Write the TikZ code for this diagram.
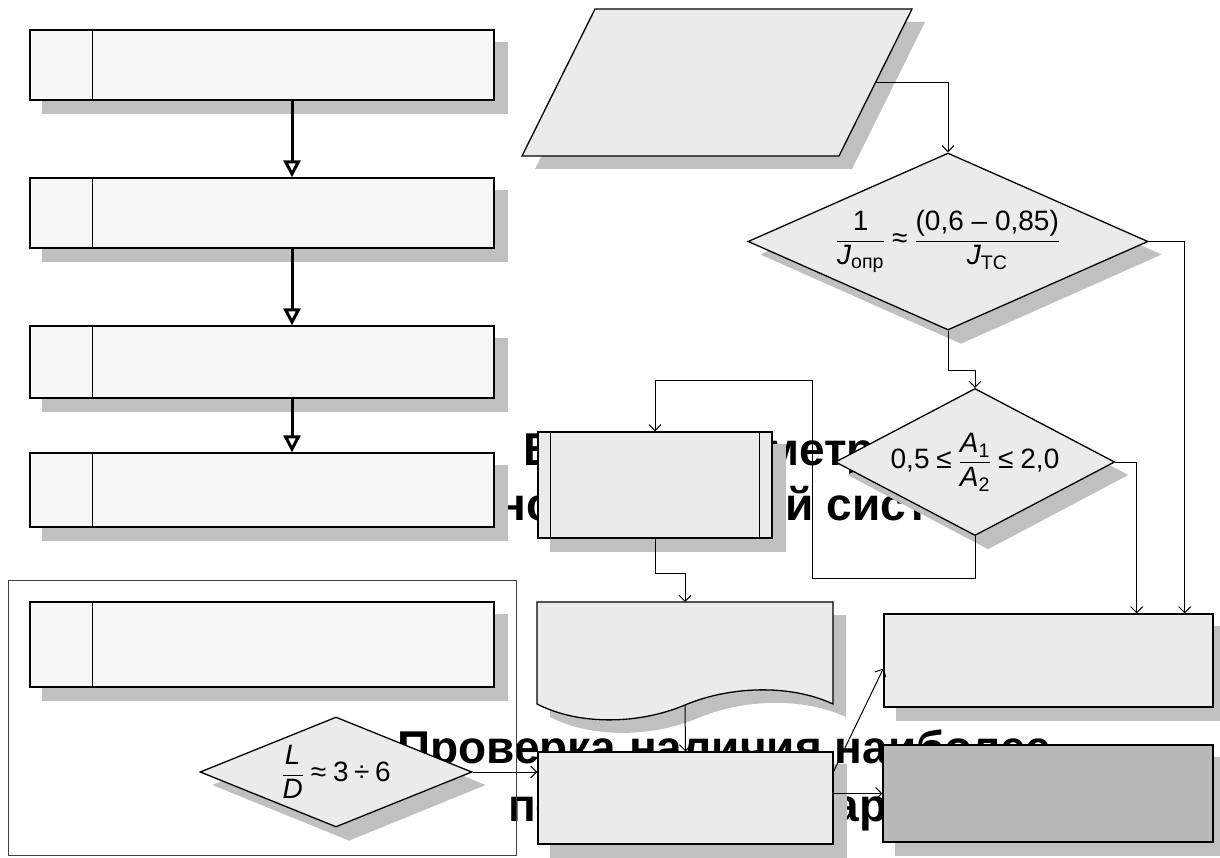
\documentclass[tikz,border=0pt]{standalone}
\usepackage{amsmath}
\usepackage{fontspec}
\setmainfont{Liberation Sans}
\usetikzlibrary{positioning, shapes.geometric, arrows.meta, calc}
\pgfdeclarelayer{shadows}
\pgfdeclarelayer{words}
\pgfsetlayers{words,shadows,main}
\definecolor{shadowgray}{HTML}{C0C0C0}
\definecolor{boxfill}{HTML}{EBEBEB}
\definecolor{palefill}{HTML}{F7F7F7}
\definecolor{darkfill}{HTML}{B9B9B9}
\definecolor{framegray}{HTML}{404040}
% outlines that are drawn twice (shadow and shape)
\def\inppath{(595,9) -- (912,9) -- (839,156) -- (522,156) -- cycle}
\def\docpath{(537,602) -- (833,602) -- (833,704) .. controls (790,684) and (730,686) .. (685,705) .. controls (640,724) and (580,726) .. (537,704) -- cycle}

\begin{document}
\begin{tikzpicture}[x=1pt, y=-1pt,
	stagebox/.style={draw, line width=1.3pt, fill=palefill, minimum width=464pt, inner sep=0pt},
	blockbox/.style={draw, line width=1.3pt, fill=boxfill, inner sep=0pt},
	check/.style={diamond, draw, line width=1.3pt, fill=boxfill, inner sep=0pt, font=\fontsize{28}{33}\selectfont},
	link/.style={-{Straight Barb[length=6pt,width=12pt]}, line width=1pt},
	bigarrow/.style={-{Triangle[fill=white,length=17pt,width=17pt]}, line width=3pt},
	heading/.style={font=\bfseries\fontsize{46}{53}\selectfont, inner sep=0pt, anchor=base west},
	shade/.style={fill=shadowgray}]
		\useasboundingbox (0,0) rectangle (1220,858);
		
		% Frame round the lower left part
		\draw[framegray, line width=1pt] (8,580) rectangle (516,855);
		
		% Left column
		\node[stagebox, minimum height=70pt] (s1) at (262,65) {};
		\node[stagebox, minimum height=70pt] (s2) at (262,213) {};
		\node[stagebox, minimum height=72pt] (s3) at (262,362) {};
		\node[stagebox, minimum height=74pt] (s4) at (262,490) {};
		\node[stagebox, minimum height=85pt] (s5) at (262,644.5) {};
		\foreach \i in {1,...,5}
		\draw[line width=1.3pt] ($(s\i.north west)+(63,0)$) -- ($(s\i.south west)+(63,0)$);
		\foreach \i/\j in {1/2,2/3,3/4}
		\draw[bigarrow] ($(s\i.south)+(30,0)$) -- ($(s\j.north)+(30,0)$);
		
		% Input block
		\draw[line width=1.3pt, fill=boxfill] \inppath;
		\coordinate (inp) at (875.5,82.5);
		
		% Checks
		\node[check, minimum width=400pt, minimum height=177pt, aspect=2.26] (d1) at (948,241.5)
		{$\dfrac{\text{1}}{\text{\itshape J}_{\text{опр}}}\mathrel{\text{≈}}\dfrac{\text{(0,6 – 0,85)}}{\text{\itshape J}_{\text{ТС}}}$};
		\node[check, minimum width=270pt, minimum height=142pt, aspect=1.9] (d2) at (975,462)
		{$\text{0,5}\mathrel{\text{≤}}\dfrac{\text{\itshape A}_{\text{1}}}{\text{\itshape A}_{\text{2}}}\mathrel{\text{≤}}\text{2,0}$};
		\node[check, minimum width=272pt, minimum height=110pt, aspect=2.47] (d3) at (336,772)
		{$\dfrac{\text{\itshape L}}{\text{\itshape D}}\mathrel{\text{≈}}\text{3}\mathbin{\text{÷}}\text{6}$};
		
		% Process with double sides
		\node[blockbox, minimum width=234pt, minimum height=106pt] (proc) at (655,485) {};
		\draw[line width=1.3pt] ($(proc.north west)+(13,0)$) -- ($(proc.south west)+(13,0)$);
		\draw[line width=1.3pt] ($(proc.north east)+(-13,0)$) -- ($(proc.south east)+(-13,0)$);
		
		% Document
		\draw[line width=1.3pt, fill=boxfill] \docpath;
		\coordinate (doc-n) at (685,602);
		\coordinate (doc-s) at (685,705);
		
		% Result blocks
		\node[blockbox, minimum width=295pt, minimum height=92pt] (bot) at (685.5,798) {};
		\node[blockbox, minimum width=329pt, minimum height=93pt] (rbox) at (1048.5,660.5) {};
		\node[blockbox, fill=darkfill, minimum width=330pt, minimum height=97pt] (grey) at (1048,793.5) {};
		
		% Connectors
		\draw[link] (inp) -| (d1.north);
		\draw[link] (d1.east) -| ($(rbox.north east)+(-29,0)$);
		\draw[link] (d1.south) -- ++(0,40) -| (d2.north);
		\draw[link] (d2.east) -| ($(rbox.north east)+(-77,0)$);
		\coordinate (loop) at (812,380);
		\draw[link] (d2.south) -- ++(0,42) -| (loop) -| (proc.north);
		\draw[link] (proc.south) -- ++(0,35) -| (doc-n);
		\draw[link] (doc-s) -- (bot.north);
		\draw[link] (d3.east) -- (d3.east -| bot.west);
		\draw[link] ($(bot.north east)+(0,20)$) -- ($(rbox.west)+(0,8)$);
		\draw[link] (bot.east |- grey.west) -- (grey.west);
		
		% Shadows
		\begin{pgfonlayer}{shadows}
			\foreach \n in {s1,s2,s3,s4,s5,proc,bot,rbox,grey}
			\fill[shade] ([shift={(13,13)}]\n.north west) rectangle ([shift={(13,13)}]\n.south east);
			\foreach \n in {d1,d2,d3}
			\fill[shade] ([shift={(13,13)}]\n.north) -- ([shift={(13,13)}]\n.east)
			-- ([shift={(13,13)}]\n.south) -- ([shift={(13,13)}]\n.west) -- cycle;
			\fill[shade, shift={(13,13)}] \inppath;
			\fill[shade, shift={(13,13)}] \docpath;
		\end{pgfonlayer}
		
		% Slide headings behind the chart
		\begin{pgfonlayer}{words}
			\node[heading] (h1) at (523,465) {Выбор геометрии};
			\node[heading] (h2) at (448,520) {конструктивной системы};
			\node[heading] (h3) at (397,763) {Проверка наличия наиболее};
			\node[heading] (h4) at (508,821) {подходящих вариантов};
		\end{pgfonlayer}
		
	\end{tikzpicture}
\end{document}
